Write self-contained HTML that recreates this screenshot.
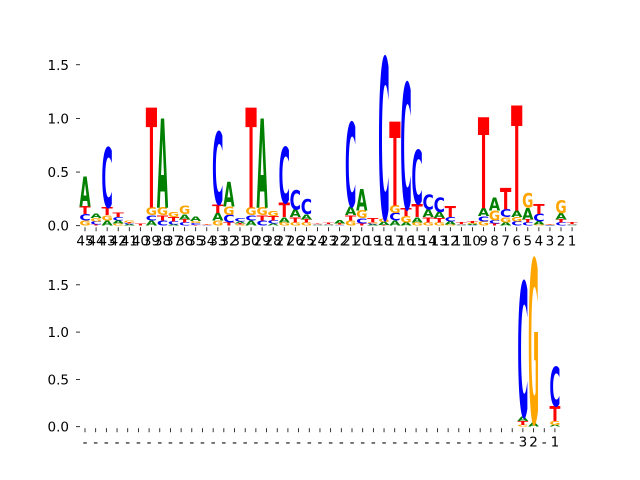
<!DOCTYPE html>
<html><head><meta charset="utf-8">
<style>
html,body{margin:0;padding:0;background:#fff;}
svg{display:block;}
text{font-family:"DejaVu Sans","Liberation Sans",sans-serif;}
</style></head>
<body>
<svg id="chart" width="640" height="480" viewBox="0 0 640 480" xmlns="http://www.w3.org/2000/svg">
<g id="top"></g>
<g id="bottom"></g>
</svg>
<script>
// Top panel: positions 45..1, letter heights [A, C, G, T]
const topLabels = ["45","44","43","42","41","40","39","38","37","36","35","34","33","32","31","30","29","28","27","26","25","24","23","22","21","20","19","18","17","16","15","14","13","12","11","10","9","8","7","6","5","4","3","2","1"];
const topA = [0.28,0.04,0.05,0.03,0.01,0,0.05,0.83,0.01,0.05,0.04,0,0.07,0.23,0.02,0.05,0.83,0.02,0.05,0.07,0.05,0.005,0.005,0.03,0.08,0.2,0.01,0.03,0.05,0.03,0.05,0.07,0.06,0.03,0.005,0.01,0.07,0.12,0.03,0.06,0.11,0.03,0.003,0.06,0.005];
const topC = [0.06,0.03,0.56,0.03,0.01,0,0.05,0.05,0.03,0.03,0.02,0.005,0.67,0.07,0.03,0.05,0.05,0.03,0.52,0.18,0.14,0.005,0.005,0.005,0.78,0.05,0.01,1.5,0.07,1.17,0.5,0.14,0.13,0.04,0.005,0.005,0.05,0.03,0.07,0.04,0.03,0.07,0.003,0.03,0.005];
const topG = [0.05,0.03,0.05,0.02,0.02,0,0.07,0.07,0.05,0.08,0.02,0.005,0.05,0.08,0.01,0.07,0.07,0.05,0.03,0.03,0.03,0.005,0.005,0.005,0.05,0.07,0.01,0.03,0.07,0.06,0.03,0.03,0.03,0.01,0.005,0.01,0.04,0.09,0.05,0.04,0.13,0.01,0.003,0.12,0.005];
const topT = [0.07,0.01,0.07,0.04,0.01,0.02,0.93,0.05,0.04,0.03,0.005,0.005,0.08,0.03,0.01,0.93,0.05,0.04,0.13,0.05,0.03,0.005,0.01,0.01,0.05,0.02,0.04,0.005,0.78,0.07,0.12,0.05,0.04,0.1,0.02,0.02,0.85,0.02,0.2,0.98,0.03,0.09,0.003,0.03,0.02];
// Bottom panel
const botLabels = ["-","-","-","-","-","-","-","-","-","-","-","-","-","-","-","-","-","-","-","-","-","-","-","-","-","-","-","-","-","-","-","-","-","-","-","-","-","-","-","-","-","3","2","-","1"];
const botA = new Array(45).fill(0); botA[41]=0.05; botA[42]=0.04; botA[43]=0; botA[44]=0.02;
const botC = new Array(45).fill(0); botC[41]=1.42; botC[42]=0; botC[44]=0.42;
const botG = new Array(45).fill(0); botG[41]=0.02; botG[42]=1.73; botG[44]=0.04;
const botT = new Array(45).fill(0); botT[41]=0.04; botT[42]=0; botT[44]=0.16;
const yTicks = [0, 0.5, 1.0, 1.5];
const yTickLabels = ["0.0","0.5","1.0","1.5"];

const NS = "http://www.w3.org/2000/svg";
const colors = {A:"green",C:"blue",G:"orange",T:"red"};
function mk(tag, attrs, parent){const e=document.createElementNS(NS,tag);for(const k in attrs)e.setAttribute(k,attrs[k]);parent.appendChild(e);return e;}

function drawPanel(g, cfg){
  const xs = i => cfg.x0 + i*cfg.dx;
  const ys = v => cfg.y0 - v*cfg.ky;
  cfg.yTicks.forEach((t,i)=>{
    const l = mk("line",{x1:76,x2:80,y1:ys(t),y2:ys(t),stroke:"#000","stroke-width":0.8},g);
    
    
    const tx = mk("text",{x:69,y:ys(t)+5,"text-anchor":"end","font-size":"13.5px",fill:"#000"},g);
    tx.textContent = cfg.yLabels[i];
    
    
  });
  const w = cfg.dx*0.94;
  cfg.labels.forEach((lab,i)=>{
    const x = xs(i);
    const tk = mk("line",{x1:x,x2:x,y1:cfg.y0+1.5,y2:cfg.y0+5.5,stroke:"#000","stroke-width":0.8},g);
    
    
    const tl = mk("text",{x:x,y:cfg.y0+20,"text-anchor":"middle","font-size":"13.5px",fill:"#000"},g);
    tl.textContent = lab;
    
    
    const stack = [["A",cfg.A[i]],["C",cfg.C[i]],["G",cfg.G[i]],["T",cfg.T[i]]].filter(d=>d[1]>0).sort((a,b)=>a[1]-b[1]);
    let base = 0;
    stack.forEach(([L,h])=>{
      const yb = ys(base), yt = ys(base+h);
      base += h;
      const t = mk("text",{x:0,y:0,"font-size":"100px","font-weight":"bold",fill:colors[L]},g);
      t.textContent = L;
      
      
      const bb = t.getBBox();
      const capTop = -72.9, capW = bb.width*0.92, left = bb.x + bb.width*0.04;
      const sx = w/capW, sy = (yb-yt)/(-capTop);
      t.setAttribute("transform",`translate(${x-w/2},${yb}) scale(${sx},${sy}) translate(${-left},0)`);
    });
  });
}
drawPanel(document.getElementById("top"),{x0:85,dx:11.07,y0:225.7,ky:107.3,labels:topLabels,A:topA,C:topC,G:topG,T:topT,yTicks:yTicks,yLabels:yTickLabels});
drawPanel(document.getElementById("bottom"),{x0:85,dx:10.68,y0:426.7,ky:94.6,labels:botLabels,A:botA,C:botC,G:botG,T:botT,yTicks:yTicks,yLabels:yTickLabels});
</script>
</body></html>
